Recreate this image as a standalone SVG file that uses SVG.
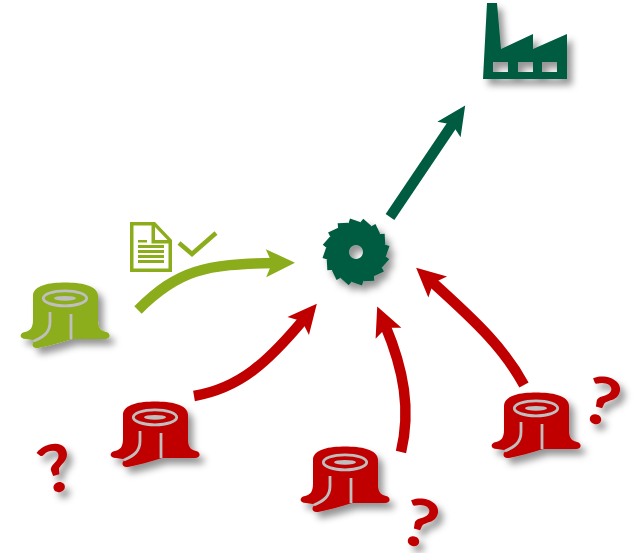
<svg xmlns="http://www.w3.org/2000/svg" width="641" height="553" viewBox="0 0 641 553">
<style>
.lime{color:#8cad1b;fill:#8cad1b}
.red{color:#c00000;fill:#c00000}
.dark{color:#005c40;fill:#005c40}
.conn{fill:none;stroke-width:10.5}
.gray{fill:none;stroke:#bfbfbf;stroke-width:2.8}
.q{font-family:Lato,"Liberation Sans",sans-serif;font-weight:700;font-size:66px;fill:#c00000;text-anchor:middle}
.shadow{filter:url(#sh)}
</style>
<defs>
<filter id="sh" x="-30%" y="-30%" width="170%" height="170%">
<feDropShadow dx="5" dy="6" stdDeviation="3.5" flood-color="#000" flood-opacity="0.42"/>
</filter>
<marker id="hLime" markerUnits="userSpaceOnUse" markerWidth="34" markerHeight="32" refX="9" refY="16" orient="auto" overflow="visible"><path d="M0,2 L29,16 L0,30 L6,16 Z" fill="#8cad1b"/></marker>
<marker id="hRed" markerUnits="userSpaceOnUse" markerWidth="34" markerHeight="32" refX="9" refY="16" orient="auto" overflow="visible"><path d="M0,2 L29,16 L0,30 L6,16 Z" fill="#c00000"/></marker>
<marker id="hDark" markerUnits="userSpaceOnUse" markerWidth="34" markerHeight="32" refX="9" refY="16" orient="auto" overflow="visible"><path d="M0,2 L29,16 L0,30 L6,16 Z" fill="#005c40"/></marker>
<g id="stump">
<path fill="currentColor" d="M33,296 C33,285 50,282.5 65,282.5 C80,282.5 98,285 98,296 L98,321 C98,329 102,331 106,332 C111,333 111,339 105,339 L72,339 C60,343 48,346 38,348 C31,349 31,342 36,340.5 L26,339 C19,339 19,333 25,332 C30,331 33,328 33,320 Z"/>
<path class="gray" d="M50,312 L50,322 C50,332 44,337 34,341"/>
<path class="gray" d="M71,314 L71,339"/>
<ellipse class="gray" cx="65" cy="298.3" rx="21.7" ry="7.5"/>
<ellipse cx="65" cy="298.3" rx="11" ry="2.4" fill="#bfbfbf"/>
</g>
<path id="tooth" d="M27,-8 L33.5,-6 L30,4 L27,4 Z"/>
</defs>
<g id="connectors">
<path class="conn" stroke="#8cad1b" marker-end="url(#hLime)" d="M138,310 C178,270 205,264 275,263"/>
<path class="conn" stroke="#c00000" marker-end="url(#hRed)" d="M194,396 C240,388 268,362 304,319"/>
<path class="conn" stroke="#c00000" marker-end="url(#hRed)" d="M401,452 C411,410 404,370 385,325"/>
<path class="conn" stroke="#c00000" marker-end="url(#hRed)" d="M524,385 C505,350 480,325 431,281"/>
<path class="conn" stroke="#005c40" marker-end="url(#hDark)" d="M390,217 L454,122"/>
</g>
<g id="stump-green" class="lime shadow"><use href="#stump"/></g>
<g id="stump-red-1" class="red shadow"><use href="#stump" transform="translate(90,119)"/></g>
<g id="stump-red-2" class="red shadow"><use href="#stump" transform="translate(280,164)"/></g>
<g id="stump-red-3" class="red shadow"><use href="#stump" transform="translate(471,110)"/></g>
<g id="document" class="lime">
<path fill-rule="evenodd" d="M130,222 H155 L172,240 V272 H130 Z M133.5,225.5 V268.5 H168.5 V243.5 H151.5 V225.5 Z M155,227 V240 H167.5 Z"/>
<path d="M138,240 H147 V242.5 H138 Z M138,245 H164 V248 H138 Z M138,250 H164 V253 H138 Z M138,255 H164 V258 H138 Z M138,260 H164 V263 H138 Z"/>
</g>
<path id="check" d="M179,243 L192,254 L216,233" fill="none" stroke="#8cad1b" stroke-width="4.5"/>
<g id="saw" class="dark shadow">
<path fill-rule="evenodd" d="M356,222.5 a29.5,29.5 0 1 0 0.01,0 Z M356,245 a7,7 0 1 1 -0.01,0 Z"/>
<g transform="translate(356,252)">
<use href="#tooth"/><use href="#tooth" transform="rotate(22.5)"/><use href="#tooth" transform="rotate(45)"/><use href="#tooth" transform="rotate(67.5)"/><use href="#tooth" transform="rotate(90)"/><use href="#tooth" transform="rotate(112.5)"/><use href="#tooth" transform="rotate(135)"/><use href="#tooth" transform="rotate(157.5)"/><use href="#tooth" transform="rotate(180)"/><use href="#tooth" transform="rotate(202.5)"/><use href="#tooth" transform="rotate(225)"/><use href="#tooth" transform="rotate(247.5)"/><use href="#tooth" transform="rotate(270)"/><use href="#tooth" transform="rotate(292.5)"/><use href="#tooth" transform="rotate(315)"/><use href="#tooth" transform="rotate(337.5)"/>
</g>
</g>
<g id="factory" class="dark shadow">
<path fill-rule="evenodd" d="M487,3 H497 L501,49 L533,34 V49 L567,34 V79 H483 Z M493,62 V72 H508 V62 Z M518,62 V72 H533 V62 Z M542,62 V72 H557 V62 Z"/>
</g>
<g id="question-1" class="shadow"><text class="q" transform="translate(62,491) rotate(-15) scale(1.15,1)">?</text></g>
<g id="question-2" class="shadow"><text class="q" transform="translate(414,546) rotate(15) scale(1.15,1)">?</text></g>
<g id="question-3" class="shadow"><text class="q" transform="translate(596,424) rotate(15) scale(1.15,1)">?</text></g>
</svg>
